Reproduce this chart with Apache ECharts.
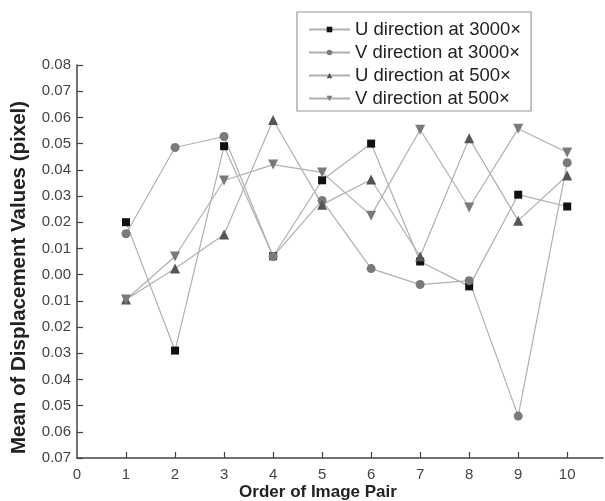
<!DOCTYPE html>
<html><head><meta charset="utf-8">
<script src="https://cdn.jsdelivr.net/npm/echarts@6/dist/echarts.min.js"></script>
<style>html,body{margin:0;padding:0;background:#fff}#c{width:605px;height:501px}</style>
</head><body><div id="c"></div>
<script>
const pairs = [1,2,3,4,5,6,7,8,9,10];
const xTicks = [0,1,2,3,4,5,6,7,8,9,10];
const uAt3000 = [0.020,-0.029,0.049,0.007,0.036,0.050,0.005,-0.0045,0.0305,0.026];
const vAt3000 = [0.0156,0.0485,0.0527,0.0069,0.0283,0.0023,-0.0038,-0.0023,-0.054,0.0427];
const uAt500 = [-0.0095,0.0023,0.0153,0.059,0.0267,0.0363,0.0069,0.052,0.0206,0.0378];
const vAt500 = [-0.0095,0.0069,0.0359,0.042,0.039,0.0225,0.0553,0.0256,0.0557,0.0466];
const seriesNames = ['U direction at 3000×','V direction at 3000×','U direction at 500×','V direction at 500×'];

const pts = arr => arr.map((v,i)=>[pairs[i], v]);
const font = 'Liberation Sans, Arial, sans-serif';
const lineStyle = {color:'#b0b0b0', width:1.2};
const chart = echarts.init(document.getElementById('c'), null, {renderer:'canvas'});
chart.setOption({
  animation:false,
  backgroundColor:'#fff',
  grid:{left:77, right:2, top:65, bottom:43, containLabel:false, outerBoundsMode:'none'},
  legend:{
    orient:'vertical', left:297, top:12,
    data:seriesNames,
    borderColor:'#999', borderWidth:1.2,
    padding:[8,10,3,11],
    itemGap:4, itemWidth:41, itemHeight:7,
    textStyle:{fontFamily:font, fontSize:18.5, color:'#222'}
  },
  xAxis:{
    type:'value', min:0, max:10.73,
    name:'Order of Image Pair', nameLocation:'middle', nameGap:26, nameMoveOverlap:false,
    nameTextStyle:{fontFamily:font, fontSize:17, fontWeight:'bold', color:'#222', padding:[0,44,0,0]},
    axisLine:{onZero:false, lineStyle:{color:'#444', width:1.5}},
    axisTick:{inside:true, length:6, lineStyle:{color:'#444', width:1.2}, customValues:pairs},
    axisLabel:{customValues:xTicks, fontFamily:font, fontSize:15, color:'#444', margin:9},
    splitLine:{show:false}
  },
  yAxis:{
    type:'value', min:-0.07, max:0.08, interval:0.01,
    name:'Mean of Displacement Values (pixel)', nameLocation:'middle', nameGap:47,
    nameTextStyle:{fontFamily:font, fontSize:20.5, fontWeight:'bold', color:'#222', padding:[0,32,0,0]},
    axisLine:{show:true, onZero:false, lineStyle:{color:'#444', width:1.5}},
    axisTick:{show:true, inside:true, length:6, lineStyle:{color:'#444', width:1.2}},
    axisLabel:{fontFamily:font, fontSize:15, color:'#444', margin:6,
      formatter:v=>Math.abs(v).toFixed(2)},
    splitLine:{show:false}
  },
  series:[
    {name:seriesNames[0], type:'line', data:pts(uAt3000), symbol:'rect', symbolSize:8,
     itemStyle:{color:'#111'}, lineStyle},
    {name:seriesNames[1], type:'line', data:pts(vAt3000), symbol:'circle', symbolSize:9,
     itemStyle:{color:'#7a7a7a'}, lineStyle},
    {name:seriesNames[2], type:'line', data:pts(uAt500), symbol:'triangle', symbolSize:10,
     itemStyle:{color:'#555'}, lineStyle},
    {name:seriesNames[3], type:'line', data:pts(vAt500), symbol:'triangle', symbolRotate:180, symbolSize:10,
     itemStyle:{color:'#7a7a7a'}, lineStyle}
  ]
});
</script></body></html>
